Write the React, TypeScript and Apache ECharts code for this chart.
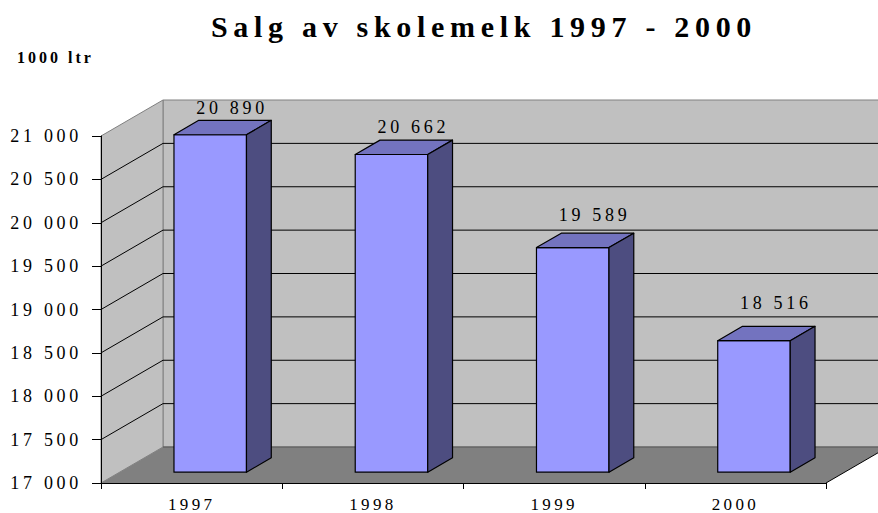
import React, { useEffect, useRef } from 'react';
import * as echarts from 'echarts';

const TITLE = 'Salg av skolemelk 1997 - 2000';
const UNIT_LABEL = '1000 ltr';
const YEARS = ['1997', '1998', '1999', '2000'];
const SALES = [20890, 20662, 19589, 18516];
const Y_MIN = 17000;
const Y_MAX = 21000;
const Y_STEP = 500;
const Y_TICKS = [17000, 17500, 18000, 18500, 19000, 19500, 20000, 20500, 21000];

// 3D projection of depth
const DX = 62;
const DY = -36;
const BAR_FRONT = 0.3;
const BAR_BACK = 0.7;
const BAR_RATIO = 0.4;

const FONT = 'Liberation Serif';

const fmt = (v: number) => {
  const s = String(Math.round(v));
  return s.length > 3 ? s.slice(0, -3) + ' ' + s.slice(-3) : s;
};

const CSS = `
#root svg text { font-family: 'Liberation Serif', serif; }
#root svg text[style*="30px"] { letter-spacing: 5.7px; }
#root svg text[style*="16px"] { letter-spacing: 3px; }
#root svg text[style*="17px"] { letter-spacing: 3.3px; }
#root svg text[style*="18px"] { letter-spacing: 3.7px; }
`;

export default function App() {
  const ref = useRef<HTMLDivElement>(null);

  useEffect(() => {
    if (!ref.current) return;
    const chart = echarts.init(ref.current, undefined, { renderer: 'svg' });

    const wallsRender = (params: any, api: any) => {
      const cs = params.coordSys;
      const x0 = cs.x;
      const x1 = cs.x + cs.width;
      const yT = cs.y;
      const yB = cs.y + cs.height;
      const children: any[] = [];
      children.push({
        type: 'rect',
        shape: { x: x0 + DX, y: yT + DY, width: x1 - x0, height: yB - yT },
        style: { fill: '#C0C0C0', stroke: '#808080', lineWidth: 1 },
      });
      children.push({
        type: 'polygon',
        shape: { points: [[x0, yB], [x0, yT], [x0 + DX, yT + DY], [x0 + DX, yB + DY]] },
        style: { fill: '#C0C0C0', stroke: '#808080', lineWidth: 1 },
      });
      children.push({
        type: 'polygon',
        shape: { points: [[x0, yB], [x0 + DX, yB + DY], [x1 + DX, yB + DY], [x1, yB]] },
        style: { fill: '#808080' },
      });
      Y_TICKS.forEach((v) => {
        if (v >= Y_MAX) return;
        const y = api.coord([0, v])[1];
        children.push({
          type: 'line',
          shape: { x1: x0 + DX, y1: y + DY, x2: x1 + DX, y2: y + DY },
          style: { stroke: v === Y_MIN ? '#555' : '#000', lineWidth: 1 },
        });
        if (v > Y_MIN) {
          children.push({
            type: 'line',
            shape: { x1: x0, y1: y, x2: x0 + DX, y2: y + DY },
            style: { stroke: '#000', lineWidth: 1 },
          });
        }
      });
      children.push({
        type: 'line',
        shape: { x1: x1, y1: yB, x2: x1 + DX, y2: yB + DY },
        style: { stroke: '#000', lineWidth: 1 },
      });
      return { type: 'group', children };
    };

    const barsRender = (params: any, api: any) => {
      const i = api.value(0);
      const v = api.value(1);
      const top = api.coord([i, v]);
      const cx = top[0];
      const yTop = top[1];
      const yBase = api.coord([i, Y_MIN])[1];
      const band = api.size([1, 0])[0];
      const w = band * BAR_RATIO;
      const fx = cx - w / 2 + BAR_FRONT * DX;
      const fy = BAR_FRONT * DY;
      const ddx = (BAR_BACK - BAR_FRONT) * DX;
      const ddy = (BAR_BACK - BAR_FRONT) * DY;
      const edge = { stroke: '#000', lineWidth: 1.2, lineJoin: 'round' };
      const labelY = yBase - (yBase - yTop) * 0.949 - 54.7;
      return {
        type: 'group',
        children: [
          {
            type: 'rect',
            shape: { x: fx, y: yTop + fy, width: w, height: yBase - yTop },
            style: { fill: '#9999FF', ...edge },
          },
          {
            type: 'polygon',
            shape: {
              points: [
                [fx, yTop + fy],
                [fx + ddx, yTop + fy + ddy],
                [fx + w + ddx, yTop + fy + ddy],
                [fx + w, yTop + fy],
              ],
            },
            style: { fill: '#7373BF', ...edge },
          },
          {
            type: 'polygon',
            shape: {
              points: [
                [fx + w, yTop + fy],
                [fx + w + ddx, yTop + fy + ddy],
                [fx + w + ddx, yBase + fy + ddy],
                [fx + w, yBase + fy],
              ],
            },
            style: { fill: '#4D4D80', ...edge },
          },
          {
            type: 'text',
            x: cx + 0.62 * DX + 2,
            y: labelY,
            style: {
              text: fmt(v),
              fill: '#000',
              fontSize: 18,
              fontFamily: FONT,
              textAlign: 'center',
              textVerticalAlign: 'middle',
            },
          },
        ],
      };
    };

    chart.setOption({
      animation: false,
      backgroundColor: '#fff',
      textStyle: { fontFamily: FONT },
      grid: { left: 101, right: 52, top: 136, bottom: 29, containLabel: false },
      graphic: [
        {
          type: 'text',
          x: 484,
          y: 26,
          style: {
            text: TITLE,
            fill: '#000',
            fontSize: 30,
            fontWeight: 'bold',
            fontFamily: FONT,
            textAlign: 'center',
            textVerticalAlign: 'middle',
          },
        },
        {
          type: 'text',
          x: 17,
          y: 57.5,
          style: {
            text: UNIT_LABEL,
            fill: '#000',
            fontSize: 16,
            fontWeight: 'bold',
            fontFamily: FONT,
            textAlign: 'left',
            textVerticalAlign: 'middle',
          },
        },
      ],
      xAxis: {
        type: 'category',
        data: YEARS,
        z: 10,
        axisLine: { show: true, lineStyle: { color: '#000', width: 1 } },
        axisTick: { show: true, length: 6, lineStyle: { color: '#000' } },
        axisLabel: { color: '#000', fontSize: 17, fontFamily: FONT, margin: 13 },
        splitLine: { show: false },
      },
      yAxis: {
        type: 'value',
        min: Y_MIN,
        max: Y_MAX,
        interval: Y_STEP,
        z: 10,
        axisLine: { show: true, lineStyle: { color: '#000', width: 1 } },
        axisTick: { show: true, length: 9, lineStyle: { color: '#000' } },
        axisLabel: { color: '#000', fontSize: 18, fontFamily: FONT, margin: 19, formatter: (v: number) => fmt(v) },
        splitLine: { show: false },
      },
      series: [
        {
          type: 'custom',
          name: 'walls',
          renderItem: wallsRender,
          data: [[0, Y_MIN]],
          clip: false,
          silent: true,
          z: 1,
        },
        {
          type: 'custom',
          name: 'Salg',
          renderItem: barsRender,
          data: SALES.map((v, i) => [i, v]),
          clip: false,
          z: 2,
        },
      ],
    });

    return () => chart.dispose();
  }, []);

  return (
    <>
      <style>{CSS}</style>
      <div
        ref={ref}
        style={{ position: 'absolute', left: 0, top: 0, width: 878, height: 513, background: '#fff' }}
      />
    </>
  );
}
